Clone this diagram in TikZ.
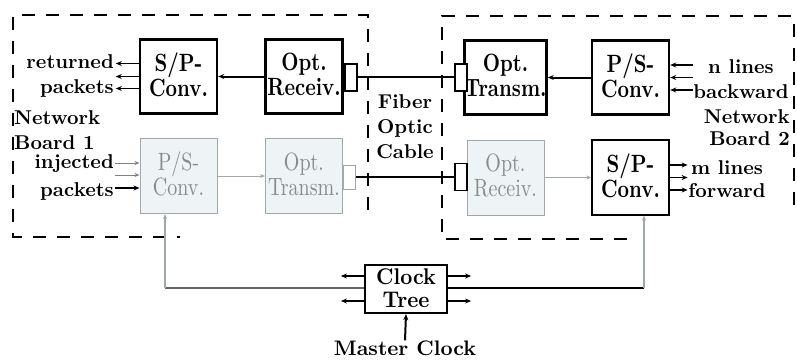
\documentclass[tikz,border=0pt]{standalone}
\usepackage{fontspec}
\setmainfont{lmroman10}[Extension=.otf, UprightFont=*-regular, BoldFont=*-bold, ItalicFont=*-italic, BoldItalicFont=*-bolditalic]
\usepackage{graphicx}
\usetikzlibrary{arrows.meta}
\definecolor{boxfill}{HTML}{EEF3F5}
\definecolor{boxgray}{HTML}{A0A8AA}
\definecolor{txtgray}{HTML}{8A8A8A}
\newcommand{\tallt}[1]{\smash{\scalebox{1}[1.25]{#1}}\vphantom{#1}}
\newcommand{\midt}[1]{\smash{\scalebox{1}[1.08]{#1}}\vphantom{#1}}
\begin{document}
\begin{tikzpicture}[x=1pt,y=-1pt,
  font=\fontsize{20}{25}\selectfont\bfseries,
  blk/.style={draw, line width=2.4pt, minimum width=77pt, minimum height=74pt, align=center, inner sep=0pt},
  gry/.style={draw=boxgray, line width=1pt, fill=boxfill, text=txtgray, minimum width=77pt, minimum height=75pt, align=center, inner sep=0pt, font=\fontsize{20}{25}\selectfont\mdseries},
  thinblk/.style={draw, line width=1.2pt, minimum width=77pt, minimum height=75pt, align=center, inner sep=0pt},
  plug/.style={draw, line width=2pt, minimum width=12pt, minimum height=27pt, inner sep=0pt, fill=white},
  plugg/.style={draw=boxgray, line width=1pt, minimum width=12pt, minimum height=24pt, inner sep=0pt, fill=white},
  tip/.style={-{Stealth[length=6pt,width=5pt]}},
  conn/.style={line width=2pt, tip},
  connthin/.style={line width=1.4pt, tip},
  conngray/.style={line width=1pt, draw=boxgray, -{Stealth[length=5pt,width=4pt]}},
  board/.style={line width=2.6pt, dash pattern=on 13pt off 11pt, line join=miter},
  lbl/.style={inner sep=0pt}
]
\useasboundingbox (0,0) rectangle (797,360);

% dashed boards
\draw[board] (368,210) -- (368,15) -- (13,15) -- (13,237) -- (180,237);
\draw[board] (794,205) -- (794,16) -- (442,16) -- (442,239) -- (637,239);

% left board
\node[blk] (spl) at (178.5,76.5) {\tallt{S/P-}\\\tallt{Conv.}};
\node[blk] (rcv1) at (304,76.5) {\tallt{Opt.}\\\tallt{Receiv.}};
\node[plug] (c1) at (350.5,77) {};
\node[gry] (ps1) at (178.5,176) {\tallt{P/S-}\\\tallt{Conv.}};
\node[gry] (tx1) at (304,176) {\tallt{Opt.}\\\tallt{Transm.}};
\node[plugg] (c2) at (349.5,177) {};

% right board
\node[blk] (tx2) at (505.5,77.5) {\tallt{Opt.}\\\tallt{Transm.}};
\node[plug] (c3) at (461,77) {};
\node[blk] (ps2) at (630.5,77.5) {\tallt{P/S-}\\\tallt{Conv.}};
\node[gry] (rx2) at (505.5,177.5) {\tallt{Opt.}\\\tallt{Receiv.}};
\node[plug, line width=1.6pt] (c4) at (461,177) {};
\node[thinblk] (sp2) at (630.5,177.5) {\tallt{S/P-}\\\tallt{Conv.}};

% internal connectors
\draw[conn] (rcv1.west) -- (spl.east);
\draw[conn] (ps2.west) -- (tx2.east);
\draw[conngray] (ps1.east) -- (tx1.west);
\draw[conngray] (rx2.east) -- (sp2.west);

% fibre
\draw[line width=2.4pt] (c1.east) -- (c3.west);
\draw[line width=2.4pt] (c2.east) -- (c4.west);
\node[lbl, align=center] (fib) at (405,127) {Fiber\\Optic\\Cable};

% left side texts and arrows
\node[lbl, anchor=east, align=right] (ret) at (114,75.5) {returned\\packets};
\foreach \d in {13,0,-12} \draw[connthin] ([yshift=\d pt]spl.west) -- ++(-23,0);
\node[lbl, anchor=east, align=right, font=\fontsize{20}{28}\selectfont\bfseries] (inj) at (114,177) {injected\\packets};
\draw[conngray, draw=gray] ([yshift=13pt]ps1.west) ++(-25,0) -- ([yshift=13pt]ps1.west);
\draw[conngray, draw=gray] ([yshift=1pt]ps1.west) ++(-25,0) -- ([yshift=1pt]ps1.west);
\draw[connthin] ([yshift=-12pt]ps1.west) ++(-25,0) -- ([yshift=-12pt]ps1.west);
\node[lbl, anchor=west, align=left] (nb1) at (14,130) {Network\\Board 1};

% right side texts and arrows
\foreach \d in {12.5,0,-12.5} \draw[connthin] ([yshift=\d pt]ps2.east) ++(23,0) -- ([yshift=\d pt]ps2.east);
\node[lbl, align=center] (nl) at (741,79) {n lines\\backward};
\node[lbl, anchor=east, align=right, font=\fontsize{20}{22}\selectfont\bfseries] (nb2) at (790,128) {Network\\Board 2};
\foreach \d in {12.5,0,-12.5} \draw[connthin] ([yshift=\d pt]sp2.east) -- ++(18,0);
\node[lbl, align=center, font=\fontsize{20}{23}\selectfont\bfseries] (ml) at (727,179) {m lines\\forward};

% clock tree
\node[draw, line width=2.2pt, minimum width=82pt, minimum height=48pt, inner sep=0pt, align=center, font=\fontsize{21}{23}\selectfont\bfseries] (clk) at (406,289) {\midt{Clock}\\\midt{Tree}};
\draw[connthin] ([yshift=13pt]clk.west) -- ++(-23,0);
\draw[connthin] ([yshift=-12pt]clk.west) -- ++(-23,0);
\draw[connthin] ([yshift=13pt]clk.east) -- ++(23,0);
\draw[connthin] ([yshift=-12pt]clk.east) -- ++(23,0);
\coordinate (cl) at (165,288);
\coordinate (cr) at (644,288);
\draw[line width=2pt, draw=gray!80!black] (cl) -- (cl -| clk.west);
\draw[line width=2pt] (cr -| clk.east) -- (cr);
\draw[line width=1.4pt, draw=boxgray, -{Stealth[length=5pt,width=4pt]}] (cl) -- (cl |- ps1.south);
\draw[line width=1.4pt, draw=boxgray, -{Stealth[length=5pt,width=4pt]}] (cr) -- (cr |- sp2.south);
\node[lbl, font=\fontsize{21}{22}\selectfont\bfseries] (mc) at (405,348) {Master Clock};
\draw[conn] (mc.north) -- (clk.south);
\end{tikzpicture}
\end{document}
